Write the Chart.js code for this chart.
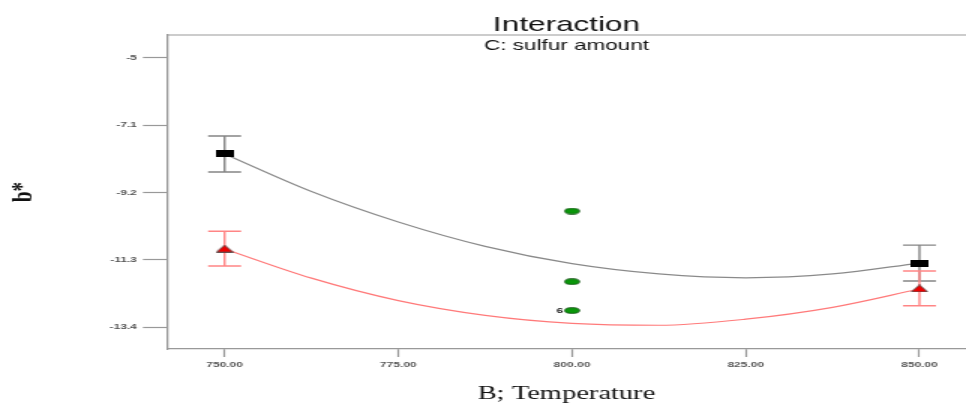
<!DOCTYPE html>
<html>
<head>
<meta charset="utf-8">
<script src="https://cdn.jsdelivr.net/npm/chart.js@4/dist/chart.umd.min.js"></script>
<style>
    body { margin: 0; background: #fff; }
</style>
</head>
<body>
<!-- the reference picture is stretched sideways, so the canvas is too -->
<canvas id="chart" width="644" height="407" style="width: 966px; height: 407px; display: block;"></canvas>
<script>
// Curvas del modelo
const curveTemps = [750, 762.5, 775, 787.5, 800, 812.5, 825, 837.5, 850];
const blackCurve = [-8.0, -9.17, -10.12, -10.88, -11.42, -11.74, -11.86, -11.74, -11.40];
const redCurve = [-10.96, -11.87, -12.57, -13.03, -13.28, -13.34, -13.15, -12.78, -12.21];

// Puntos de los factores con sus barras de error
const factorTemps = [750, 850];
const blackMeans = [-8.0, -11.40];
const blackErr = [0.56, 0.56];
const redMeans = [-10.95, -12.19];
const redErr = [0.54, 0.54];

// Puntos de diseño (verdes) en 800
const designTemps = [800, 800, 800];
const designValues = [-9.78, -11.98, -12.88];
const designLabels = ['', '', '6'];

// Ejes
const xTicks = [750, 775, 800, 825, 850];
const yTicks = [-5, -7.1, -9.2, -11.3, -13.4];

const sans = '"Liberation Sans", Arial, sans-serif';
const serif = '"Liberation Serif", "Times New Roman", serif';

function marker(w, h, draw) {
    const c = document.createElement('canvas');
    c.width = w;
    c.height = h;
    draw(c.getContext('2d'), w, h);
    return c;
}

const squareMark = marker(12, 7, function (g, w, h) {
    g.fillStyle = '#000';
    g.fillRect(0, 0, w, h);
});
const triangleMark = marker(12, 8, function (g, w, h) {
    g.beginPath();
    g.moveTo(w / 2, 0.5);
    g.lineTo(w - 0.5, h - 0.5);
    g.lineTo(0.5, h - 0.5);
    g.closePath();
    g.fillStyle = '#ee0000';
    g.fill();
    g.strokeStyle = '#444';
    g.lineWidth = 0.8;
    g.stroke();
});
const dotMark = marker(11, 7, function (g, w, h) {
    g.beginPath();
    g.ellipse(w / 2, h / 2, w / 2 - 0.6, h / 2 - 0.6, 0, 0, 2 * Math.PI);
    g.fillStyle = '#0a960a';
    g.fill();
    g.strokeStyle = '#1d4d1d';
    g.lineWidth = 0.8;
    g.stroke();
});

function pairs(xs, ys) {
    return xs.map((x, i) => ({ x: x, y: ys[i] }));
}

// Barras de error, título, subtítulo y marco superior
const extras = {
    id: 'extras',
    beforeDatasetsDraw(chart) {
        const { ctx, scales: { x, y } } = chart;
        const cap = 11;
        [[blackMeans, blackErr, '#858585'], [redMeans, redErr, '#ff8585']].forEach(([means, errs, color]) => {
            ctx.save();
            ctx.strokeStyle = color;
            ctx.lineWidth = 1.4;
            means.forEach((m, i) => {
                const px = x.getPixelForValue(factorTemps[i]);
                const top = y.getPixelForValue(m + errs[i]);
                const bot = y.getPixelForValue(m - errs[i]);
                ctx.beginPath();
                ctx.moveTo(px, top);
                ctx.lineTo(px, bot);
                ctx.moveTo(px - cap, top);
                ctx.lineTo(px + cap, top);
                ctx.moveTo(px - cap, bot);
                ctx.lineTo(px + cap, bot);
                ctx.stroke();
            });
            ctx.restore();
        });
    },
    afterDraw(chart) {
        const { ctx, chartArea, scales: { x, y } } = chart;
        const cx = (chartArea.left + chartArea.right) / 2;
        ctx.save();
        ctx.strokeStyle = '#999';
        ctx.lineWidth = 1.2;
        ctx.beginPath();
        ctx.moveTo(chartArea.left, chartArea.top);
        ctx.lineTo(chartArea.right, chartArea.top);
        ctx.stroke();

        ctx.fillStyle = '#111';
        ctx.textAlign = 'center';
        ctx.textBaseline = 'alphabetic';
        ctx.font = '21px ' + sans;
        ctx.fillText('Interaction', cx, 31);
        ctx.font = '15px ' + sans;
        ctx.fillText('C: sulfur amount', cx, 50);

        ctx.font = 'bold 8px ' + sans;
        ctx.textAlign = 'right';
        ctx.textBaseline = 'middle';
        designLabels.forEach((t, i) => {
            if (!t) return;
            ctx.fillText(t, x.getPixelForValue(designTemps[i]) - 6, y.getPixelForValue(designValues[i]));
        });
        ctx.restore();
    }
};

Chart.defaults.font.family = sans;

new Chart(document.getElementById('chart'), {
    type: 'scatter',
    data: {
        datasets: [
            {
                data: pairs(designTemps, designValues),
                pointStyle: dotMark,
                pointRadius: 5
            },
            {
                data: pairs(factorTemps, blackMeans),
                pointStyle: squareMark,
                pointRadius: 5
            },
            {
                data: pairs(factorTemps, redMeans),
                pointStyle: triangleMark,
                pointRadius: 5
            },
            {
                data: pairs(curveTemps, blackCurve),
                showLine: true,
                borderColor: '#8a8a8a',
                borderWidth: 1.2,
                pointRadius: 0,
                cubicInterpolationMode: 'monotone'
            },
            {
                data: pairs(curveTemps, redCurve),
                showLine: true,
                borderColor: '#ff7a7a',
                borderWidth: 1.2,
                pointRadius: 0,
                cubicInterpolationMode: 'monotone'
            }
        ]
    },
    options: {
        responsive: false,
        animation: false,
        layout: { autoPadding: false, padding: { top: 35, left: 0, right: 0, bottom: 0 } },
        plugins: {
            legend: { display: false },
            tooltip: { enabled: false }
        },
        scales: {
            x: {
                type: 'linear',
                min: 741.7,
                max: 856.7,
                afterFit: scale => { scale.height = 58; },
                afterBuildTicks: scale => { scale.ticks = xTicks.map(v => ({ value: v })); },
                grid: { drawOnChartArea: false, tickLength: 8, color: '#999', tickWidth: 1.2 },
                border: { color: '#999', width: 1.2 },
                ticks: {
                    padding: 3,
                    color: '#555',
                    font: { size: 8, weight: 'bold' },
                    maxRotation: 0,
                    callback: v => Number(v).toFixed(2)
                },
                title: {
                    display: true,
                    text: 'B; Temperature',
                    color: '#111',
                    font: { family: serif, size: 19 },
                    padding: { top: 0, bottom: 2 }
                }
            },
            y: {
                min: -14.08,
                max: -4.29,
                afterFit: scale => { scale.width = 111.3; },
                afterBuildTicks: scale => { scale.ticks = yTicks.map(v => ({ value: v })); },
                grid: { drawOnChartArea: false, tickLength: 16, color: '#999', tickWidth: 1.2 },
                border: { color: '#999', width: 1.3 },
                ticks: {
                    padding: 4,
                    color: '#555',
                    font: { size: 8, weight: 'bold' },
                    callback: v => String(v)
                },
                title: {
                    display: true,
                    text: 'b*',
                    color: '#111',
                    font: { family: serif, size: 19, weight: 'bold' },
                    padding: { top: 5, bottom: 0 }
                }
            }
        }
    },
    plugins: [extras]
});
</script>
</body>
</html>
